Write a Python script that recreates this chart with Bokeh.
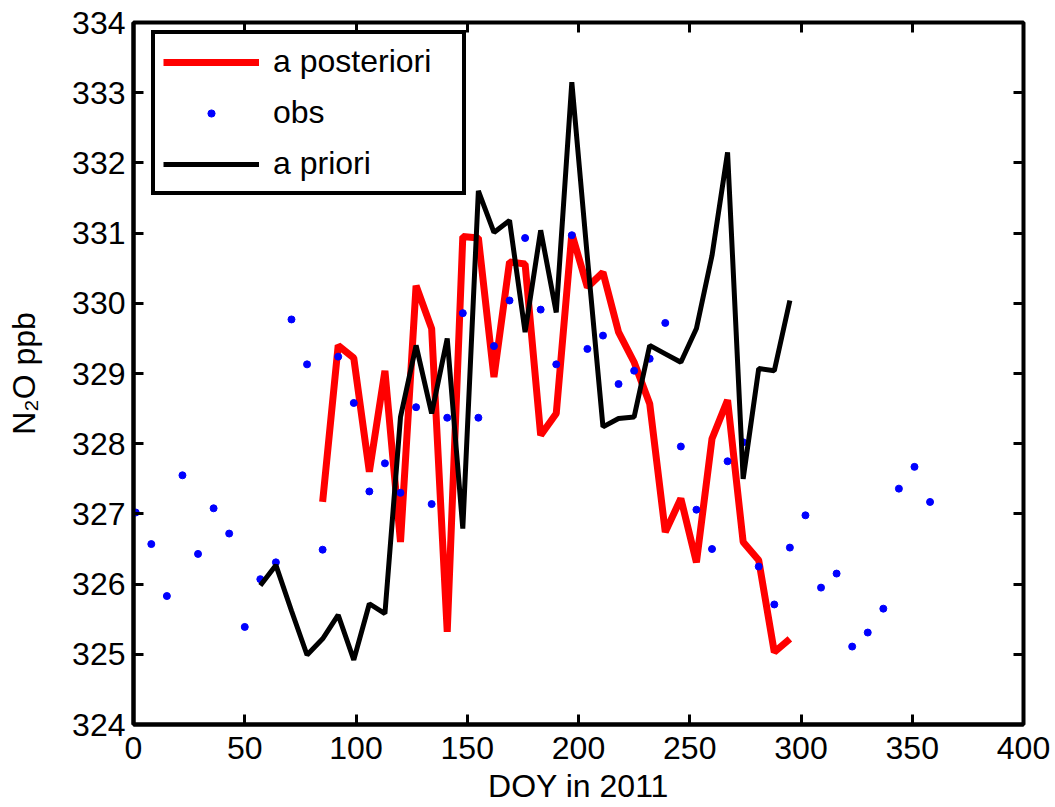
from bokeh.plotting import figure
from bokeh.models import LinearAxis, Range1d, FixedTicker, Legend, LegendItem
from bokeh.embed import file_html
from bokeh.resources import INLINE

# --- data ---
obs_day = [1, 8, 15, 22, 29, 36, 43, 50, 57, 64, 71, 78, 85, 92, 99, 106, 113,
           120, 127, 134, 141, 148, 155, 162, 169, 176, 183, 190, 197, 204, 211,
           218, 225, 232, 239, 246, 253, 260, 267, 274, 281, 288, 295, 302, 309,
           316, 323, 330, 337, 344, 351, 358]
obs_val = [327.02, 326.57, 325.83, 327.55, 326.43, 327.08, 326.72, 325.39, 326.07,
           326.31, 329.77, 329.13, 326.49, 329.24, 328.58, 327.32, 327.72, 327.30,
           328.52, 327.14, 328.37, 329.86, 328.37, 329.39, 330.04, 330.93, 329.91,
           329.13, 330.97, 329.35, 329.54, 328.85, 329.04, 329.21, 329.72, 327.96,
           327.06, 326.50, 327.75, 328.02, 326.25, 325.71, 326.52, 326.98, 325.95,
           326.15, 325.11, 325.31, 325.65, 327.36, 327.67, 327.17]

post_day = [85, 92, 99, 106, 113, 120, 127, 134, 141, 148, 155, 162, 169, 176, 183,
            190, 197, 204, 211, 218, 225, 232, 239, 246, 253, 260, 267, 274, 281,
            288, 295]
post_val = [327.17, 329.40, 329.22, 327.60, 329.04, 326.60, 330.25, 329.64, 325.32,
            330.95, 330.93, 328.95, 330.59, 330.56, 328.12, 328.43, 330.99, 330.23,
            330.44, 329.59, 329.16, 328.57, 326.74, 327.22, 326.31, 328.07, 328.62,
            326.60, 326.34, 325.03, 325.22]

prior_day = [57, 64, 71, 78, 85, 92, 99, 106, 113, 120, 127, 134, 141, 148, 155, 162,
             169, 176, 183, 190, 197, 204, 211, 218, 225, 232, 239, 246, 253, 260,
             267, 274, 281, 288, 295]
prior_val = [325.98, 326.27, 325.62, 324.99, 325.22, 325.56, 324.92, 325.72, 325.58,
             328.38, 329.40, 328.43, 329.50, 326.79, 331.60, 331.01, 331.18, 329.59,
             331.04, 329.87, 333.15, 330.65, 328.24, 328.36, 328.38, 329.40, 329.28,
             329.16, 329.64, 330.68, 332.15, 327.50, 329.07, 329.04, 330.04]

x_ticks = [0, 50, 100, 150, 200, 250, 300, 350, 400]
y_ticks = [324, 325, 326, 327, 328, 329, 330, 331, 332, 333, 334]

FONT = "Liberation Sans"

p = figure(width=1055, height=807, output_backend="svg", toolbar_location=None,
           x_range=Range1d(0, 400), y_range=Range1d(324, 334),
           min_border_left=133, min_border_right=32, min_border_top=22,
           min_border_bottom=83)
p.grid.visible = False
p.background_fill_color = "white"
p.border_fill_color = "white"
p.outline_line_color = "black"
p.outline_line_alpha = 1.0
p.outline_line_width = 4

r_post = p.line(post_day, post_val, line_color="red", line_width=7)
r_obs = p.scatter(obs_day, obs_val, size=7, fill_color="blue", line_color="blue")
r_prior = p.line(prior_day, prior_val, line_color="black", line_width=5)

def style_axis(ax, ticks):
    ax.ticker = FixedTicker(ticks=ticks)
    ax.axis_line_color = "black"
    ax.axis_line_width = 4
    ax.major_tick_in = 10
    ax.major_tick_out = 0
    ax.major_tick_line_width = 3
    ax.major_tick_line_color = "black"
    ax.minor_tick_line_color = None
    ax.major_label_text_font = FONT
    ax.major_label_text_font_size = "32px"
    ax.major_label_text_color = "black"
    ax.axis_label_text_font = FONT
    ax.axis_label_text_font_size = "32px"
    ax.axis_label_text_font_style = "normal"
    ax.axis_label_text_color = "black"

style_axis(p.xaxis[0], x_ticks)
style_axis(p.yaxis[0], y_ticks)
p.xaxis[0].axis_label = "DOY in 2011"
p.yaxis[0].axis_label = "N\u2082O ppb"
p.xaxis[0].major_label_standoff = 12
p.yaxis[0].major_label_standoff = 8
p.xaxis[0].axis_label_standoff = 6
p.yaxis[0].axis_label_standoff = 27

for loc, ticks in (("above", x_ticks), ("right", y_ticks)):
    ax = LinearAxis()
    style_axis(ax, ticks)
    ax.axis_line_color = None
    ax.major_label_text_font_size = "1px"
    ax.major_label_text_color = None
    ax.major_label_standoff = 0
    p.add_layout(ax, loc)

legend = Legend(items=[LegendItem(label="a posteriori", renderers=[r_post]),
                       LegendItem(label="obs", renderers=[r_obs]),
                       LegendItem(label="a priori", renderers=[r_prior])],
                location=(18, 529))
legend.border_line_color = "black"
legend.border_line_alpha = 1.0
legend.border_line_width = 4
legend.background_fill_color = "white"
legend.background_fill_alpha = 1.0
legend.padding = 8
legend.spacing = 12
legend.margin = 0
legend.glyph_width = 96
legend.glyph_height = 18
legend.label_height = 39
legend.label_width = 181
legend.label_standoff = 14
legend.label_text_font = FONT
legend.label_text_font_size = "32px"
legend.label_text_color = "black"
p.add_layout(legend)

open("out.html", "w").write(file_html(p, INLINE))
